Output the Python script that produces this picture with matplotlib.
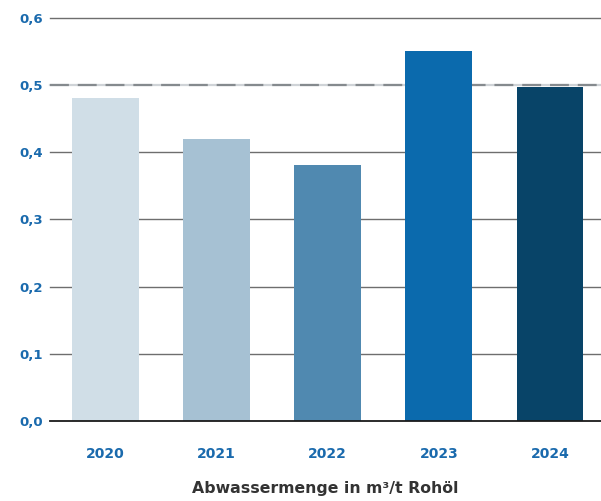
import matplotlib
matplotlib.use("Agg")
import matplotlib.pyplot as plt

years = ["2020", "2021", "2022", "2023", "2024"]
values = [0.481, 0.42, 0.381, 0.551, 0.497]
colors = ["#d0dee7", "#a6c1d3", "#5089b0", "#0b6aad", "#084468"]
yticks = [0.0, 0.1, 0.2, 0.3, 0.4, 0.5, 0.6]
ytick_labels = ["0,0", "0,1", "0,2", "0,3", "0,4", "0,5", "0,6"]
xlabel = "Abwassermenge in m³/t Rohöl"
ref_line = 0.5

plt.rcParams['font.family'] = ['DejaVu Sans']
blue = "#1a6aad"

fig = plt.figure(figsize=(6.01, 5.01), dpi=100)
ax = fig.add_axes([50/601, 80/501, 551/601, 403/501])

# gridlines
for t in yticks[1:]:
    if t == ref_line:
        ax.axhline(t, color="#cfd3d7", lw=1.6, zorder=1, clip_on=False)
        ax.axhline(t, color="#858a8e", lw=1.6, ls=(0, (8.5, 4)), zorder=1, clip_on=False)
    else:
        ax.axhline(t, color="#6e6e6e", lw=1.0, zorder=1, clip_on=False)
ax.axhline(0, color="#1a1a1a", lw=1.3, zorder=3, clip_on=False)

x = range(len(years))
ax.bar(x, values, width=0.6, color=colors, zorder=2)

ax.set_xlim(-0.5, 4.46)
ax.set_ylim(0, 0.6)
ax.set_yticks(yticks)
ax.set_yticklabels(ytick_labels)
ax.set_xticks(list(x))
ax.set_xticklabels(years)
for s in ax.spines.values():
    s.set_visible(False)
ax.tick_params(axis="y", length=0, labelsize=9.5, pad=5)
ax.tick_params(axis="x", length=0, labelsize=10, pad=19)
for lbl in ax.get_xticklabels() + ax.get_yticklabels():
    lbl.set_fontweight("bold")
    lbl.set_color(blue)

fig.text(0.5 + 50/601/2, 12/501, xlabel, ha="center", va="center",
         fontsize=11.3, fontweight="bold", color="#333333")

fig.savefig("out.png", dpi=100)
